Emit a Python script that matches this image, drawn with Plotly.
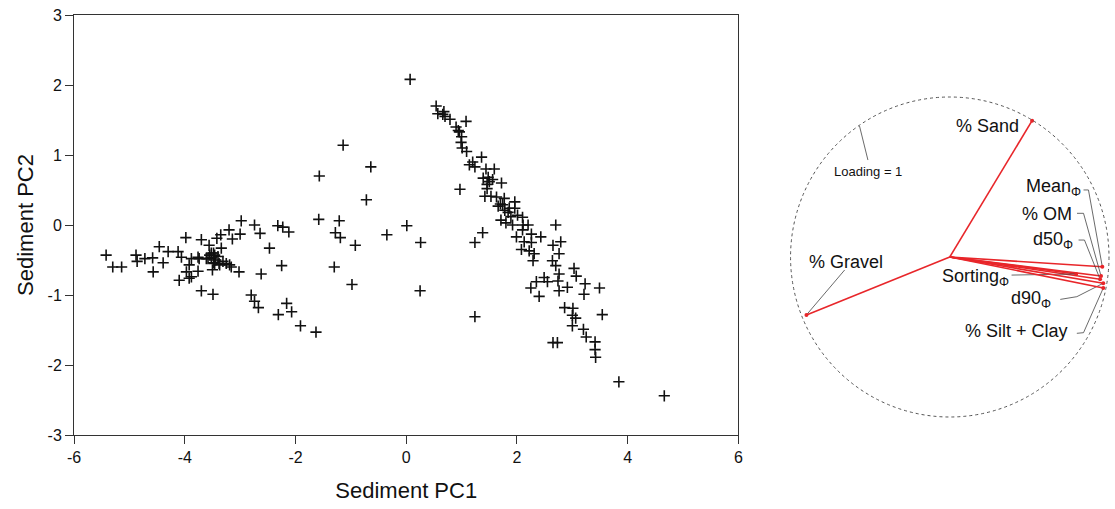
import plotly.graph_objects as go

# Sample scores on the first two sediment principal components
pc1 = [
    -5.42, -5.30, -5.14, -4.88, -4.86, -4.72, -4.58, -4.57, -4.46, -4.39,
    -4.30, -4.12, -4.10, -4.06, -3.98, -3.97, -3.92, -3.92, -3.88, -3.76,
    -3.74, -3.70, -3.70, -3.61, -3.56, -3.55, -3.49, -3.50, -3.48, -3.46,
    -3.42, -3.40, -3.37, -3.35, -3.34, -3.31, -3.25, -3.20, -3.19, -3.14,
    -3.02, -3.00, -2.98, -2.74, -2.80, -2.74, -2.67, -2.64, -2.62, -2.47,
    -2.32, -2.31, -2.25, -2.23, -2.16, -2.12, -2.07, -1.91, -1.63, -1.58,
    -3.58, -3.52, -3.46, -3.48, -3.38, -3.16, -3.76, -3.88, -3.44, -3.52,
    0.07, -1.14, -0.64, -1.57, -0.72, -1.21, -1.28, -1.19, -0.92, -0.35,
    0.01, 0.26, 1.24, -1.30, -0.98, 0.25, 1.24,
    0.54, 0.57, 0.68, 0.70, 0.66, 0.79, 1.08, 0.90, 0.94, 0.96,
    1.00, 0.99, 1.01, 1.09, 1.14, 1.20, 1.24, 1.36, 1.44, 1.59,
    1.39, 1.48, 1.46, 1.56, 1.72, 1.46, 0.97, 1.42, 1.53, 1.63,
    1.77, 1.66, 1.74, 1.96, 1.78, 1.86, 1.96, 1.89, 2.01, 2.10,
    1.71, 1.80, 1.92, 2.11, 2.20, 2.70, 2.10, 2.26, 2.43, 1.38,
    1.99, 1.50, 1.70, 1.84,
    2.13, 2.26, 2.65, 2.79, 2.08, 2.22, 2.31, 2.76, 2.29, 2.64,
    2.70, 3.03, 2.76, 3.07, 2.49, 2.35, 2.55, 2.74, 3.23, 3.49,
    2.25, 2.76, 2.91, 3.21, 2.40, 2.86, 3.01, 3.54, 3.00, 3.06,
    3.00, 3.20, 3.25, 3.41, 3.41, 3.42, 2.65, 2.73, 3.84, 4.66,
]
pc2 = [
    -0.43, -0.60, -0.60, -0.43, -0.52, -0.48, -0.47, -0.67, -0.31, -0.54,
    -0.38, -0.38, -0.79, -0.46, -0.18, -0.67, -0.76, -0.57, -0.48, -0.66,
    -0.48, -0.21, -0.94, -0.48, -0.29, -0.43, -0.99, -0.64, -0.40, -0.55,
    -0.19, -0.45, -0.57, -0.14, -0.33, -0.52, -0.55, -0.07, -0.57, -0.20,
    -0.67, -0.13, 0.06, 0.00, -1.00, -1.09, -1.18, -0.12, -0.70, -0.33,
    -0.01, -1.28, -0.58, -0.03, -1.12, -0.10, -1.24, -1.44, -1.53, 0.08,
    -0.48, -0.40, -0.43, -0.54, -0.55, -0.60, -0.46, -0.74, -0.50, -0.47,
    2.08, 1.14, 0.83, 0.70, 0.36, 0.06, -0.11, -0.18, -0.29, -0.14,
    -0.01, -0.25, -0.25, -0.60, -0.85, -0.94, -1.31,
    1.70, 1.59, 1.62, 1.55, 1.58, 1.51, 1.48, 1.40, 1.35, 1.33,
    1.26, 1.18, 1.10, 1.05, 0.86, 0.90, 0.83, 0.97, 0.80, 0.80,
    0.67, 0.68, 0.58, 0.65, 0.60, 0.52, 0.51, 0.41, 0.41, 0.40,
    0.38, 0.27, 0.29, 0.33, 0.21, 0.24, 0.24, 0.12, 0.14, 0.11,
    0.07, 0.03, 0.00, 0.00, 0.00, 0.00, -0.07, -0.13, -0.17, -0.11,
    -0.17, 0.62, 0.30, 0.18,
    -0.24, -0.25, -0.29, -0.24, -0.35, -0.37, -0.41, -0.41, -0.51, -0.51,
    -0.58, -0.62, -0.70, -0.73, -0.75, -0.81, -0.81, -0.80, -0.84, -0.90,
    -0.90, -0.94, -0.89, -0.99, -1.02, -1.18, -1.19, -1.28, -1.29, -1.33,
    -1.44, -1.49, -1.60, -1.67, -1.78, -1.89, -1.68, -1.68, -2.24, -2.44,
]

# Variable loadings on PC1 / PC2
variables = ["% Sand", "% Gravel", "Mean<sub>Φ</sub>", "% OM", "d50<sub>Φ</sub>",
             "Sorting<sub>Φ</sub>", "d90<sub>Φ</sub>", "% Silt + Clay"]
load_pc1 = [0.517, -0.900, 0.958, 0.950, 0.944, 0.794, 0.964, 0.964]
load_pc2 = [0.852, -0.362, -0.061, -0.119, -0.139, -0.106, -0.164, -0.194]

x_ticks = [-6, -4, -2, 0, 2, 4, 6]
x_tick_text = ["-6", "-4", "-2", "0", "2", "4", "6"]
y_ticks = [-3, -2, -1, 0, 1, 2, 3]
y_tick_text = ["-3", "-2", "-1", "0", "1", "2", "3"]

FONT = "Liberation Sans, Arial, sans-serif"
RED = "#e8262a"
GREY = "#444444"

fig = go.Figure()

fig.add_trace(go.Scatter(
    x=pc1, y=pc2, mode="markers", xaxis="x", yaxis="y",
    marker=dict(symbol="cross-thin", size=8, line=dict(color="#111111", width=1.6)),
    showlegend=False, hoverinfo="x+y",
))

# Label placement (x2/y2 units, circle radius = 1) and leader line start points
label_pos = {
    "% Sand": (0.234, 0.816, "center", None),
    "% Gravel": (-0.654, -0.033, "center", [(-0.660, -0.081)]),
    "Mean<sub>Φ</sub>": (0.838, 0.4375, "right", [(0.840, 0.419), (0.871, 0.419)]),
    "% OM": (0.778, 0.269, "right", [(0.799, 0.273), (0.840, 0.273)]),
    "d50<sub>Φ</sub>": (0.788, 0.106, "right", [(0.809, 0.106), (0.846, 0.106)]),
    "Sorting<sub>Φ</sub>": (0.1625, -0.125, "center", [(0.388, -0.113)]),
    "d90<sub>Φ</sub>": (0.5125, -0.2625, "center", [(0.694, -0.265), (0.798, -0.248)]),
    "% Silt + Clay": (0.416, -0.4625, "center", [(0.798, -0.477), (0.840, -0.473)]),
}

for name, lx, ly in zip(variables, load_pc1, load_pc2):
    fig.add_trace(go.Scatter(
        x=[0, lx], y=[0, ly], mode="lines", xaxis="x2", yaxis="y2",
        line=dict(color=RED, width=1.6), showlegend=False, hoverinfo="skip",
    ))
    tx, ty, align, leader = label_pos[name]
    if leader:
        xs = [p[0] for p in leader] + [lx]
        ys = [p[1] for p in leader] + [ly]
        fig.add_trace(go.Scatter(
            x=xs, y=ys, mode="lines", xaxis="x2", yaxis="y2",
            line=dict(color=GREY, width=0.8), showlegend=False, hoverinfo="skip",
        ))
    fig.add_annotation(
        x=tx, y=ty, xref="x2", yref="y2", text=name, showarrow=False,
        xanchor=align, yanchor="middle", font=dict(family=FONT, size=18, color="#111111"),
    )

fig.add_trace(go.Scatter(
    x=load_pc1, y=load_pc2, mode="markers", xaxis="x2", yaxis="y2",
    marker=dict(color=RED, size=4), showlegend=False, hoverinfo="skip",
))

# Unit-loading reference circle and its label
fig.add_shape(type="circle", xref="x2", yref="y2", x0=-1, y0=-1, x1=1, y1=1,
              line=dict(color="#555555", width=1, dash="dot"))
fig.add_trace(go.Scatter(
    x=[-0.514, -0.567], y=[0.606, 0.819], mode="lines", xaxis="x2", yaxis="y2",
    line=dict(color=GREY, width=0.8), showlegend=False, hoverinfo="skip",
))
fig.add_annotation(x=-0.5125, y=0.5375, xref="x2", yref="y2", text="Loading = 1",
                   showarrow=False, font=dict(family=FONT, size=13, color="#111111"))

axis_common = dict(
    showgrid=False, zeroline=False, showline=True, linecolor="#333333", linewidth=1,
    mirror=True, ticks="outside", ticklen=8, tickwidth=1, tickcolor="#333333",
    tickfont=dict(family=FONT, size=16, color="#111111"),
)

fig.update_layout(
    width=1115, height=509,
    margin=dict(l=74, r=0, t=15, b=74),
    paper_bgcolor="white", plot_bgcolor="white",
    xaxis=dict(domain=[0, 0.6414], range=[-6, 6], tickvals=x_ticks, ticktext=x_tick_text,
               title=dict(text="Sediment PC1", font=dict(family=FONT, size=22, color="#111111"), standoff=17),
               **axis_common),
    yaxis=dict(domain=[0, 1], range=[-3, 3], tickvals=y_ticks, ticktext=y_tick_text,
               title=dict(text="Sediment PC2", font=dict(family=FONT, size=22, color="#111111"), standoff=7),
               **axis_common),
    xaxis2=dict(domain=[0.6878, 1.0], range=[-1.025, 1.00625], anchor="y2", visible=False),
    yaxis2=dict(domain=[0, 1], range=[-1.1125, 1.5125], anchor="x2", visible=False),
)

fig.write_html("out.html")
